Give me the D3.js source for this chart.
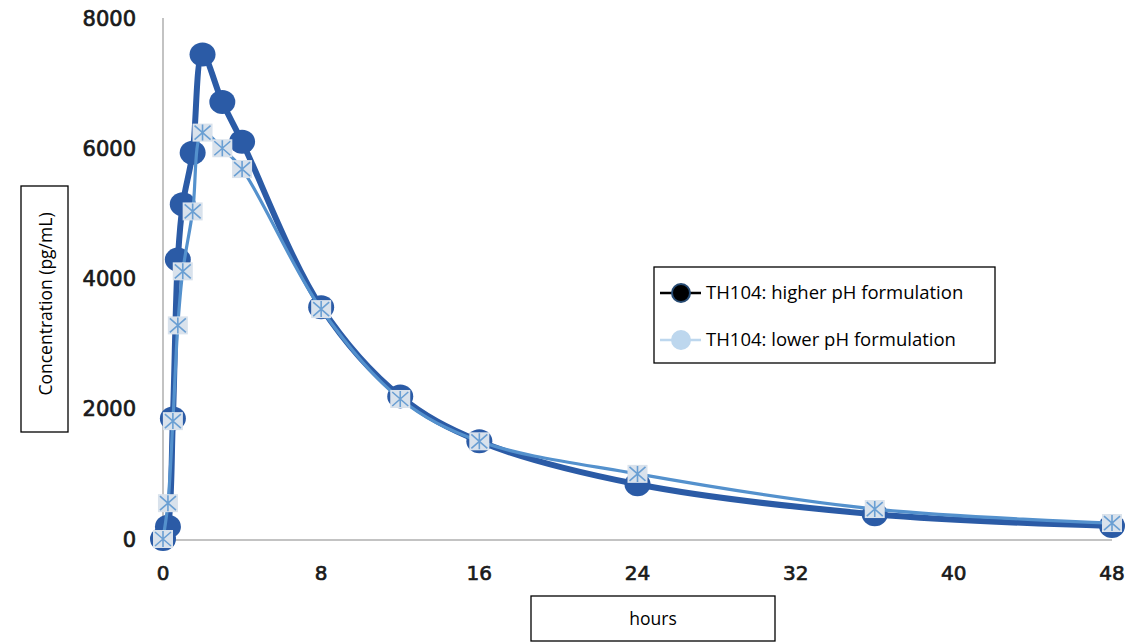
<!DOCTYPE html>
<html>
<head>
<meta charset="utf-8">
<script src="https://cdn.jsdelivr.net/npm/d3@7"></script>
<style>
  body { margin: 0; background: #fff; }
  svg { display: block; }
</style>
</head>
<body>
<div id="chart"></div>
<script>
// sampling times (hours) and concentrations (pg/mL)
let hours = [0, 0.25, 0.5, 0.75, 1, 1.5, 2, 3, 4, 8, 12, 16, 24, 36, 48];
let higherPH = [0, 190, 1850, 4290, 5140, 5930, 7440, 6710, 6100, 3560, 2190, 1500, 840, 380, 200];
let lowerPH = [0, 550, 1810, 3280, 4110, 5030, 6240, 6000, 5680, 3530, 2150, 1500, 1000, 460, 245];
let xTicks = [0, 8, 16, 24, 32, 40, 48];
let yTicks = [0, 2000, 4000, 6000, 8000];
let seriesNames = ["TH104: higher pH formulation", "TH104: lower pH formulation"];

let width = 1142, height = 643;

let svg = d3.select("#chart").append("svg")
    .attr("width", width)
    .attr("height", height);

let x = d3.scaleLinear().domain([0, 48]).range([163, 1112]);
let y = d3.scaleLinear().domain([0, 8000]).range([539, 18]);

// axis lines (no tick marks)
svg.append("line")
    .attr("x1", x(0)).attr("x2", x(0))
    .attr("y1", y(8000)).attr("y2", y(0) + 1)
    .style("stroke", "#c3c3c3").style("stroke-width", 2);
svg.append("line")
    .attr("x1", x(0)).attr("x2", x(48))
    .attr("y1", y(0) + 1).attr("y2", y(0) + 1)
    .style("stroke", "#c3c3c3").style("stroke-width", 2);

// tick labels
svg.selectAll(".ytick")
    .data(yTicks)
    .enter().append("text")
    .attr("class", "ytick")
    .attr("x", 136)
    .attr("y", d => y(d))
    .attr("dy", "0.36em")
    .attr("text-anchor", "end")
    .style("font-family", "DejaVu Sans")
    .style("font-size", "21px")
    .style("fill", "#1a1a1a")
    .style("stroke", "#1a1a1a")
    .style("stroke-width", 0.7)
    .text(d => d);

svg.selectAll(".xtick")
    .data(xTicks)
    .enter().append("text")
    .attr("class", "xtick")
    .attr("x", d => x(d))
    .attr("y", 580)
    .attr("text-anchor", "middle")
    .style("font-family", "DejaVu Sans")
    .style("font-size", "20px")
    .style("fill", "#1a1a1a")
    .style("stroke", "#1a1a1a")
    .style("stroke-width", 0.7)
    .text(d => d);

// axis titles in boxes
svg.append("rect")
    .attr("x", 21).attr("y", 186).attr("width", 47).attr("height", 246)
    .style("fill", "#fff").style("stroke", "#000").style("stroke-width", 1.3);
svg.append("text")
    .attr("transform", "translate(52,304) rotate(-90)")
    .attr("text-anchor", "middle")
    .style("font-family", "Open Sans")
    .style("font-size", "17.5px")
    .text("Concentration (pg/mL)");

svg.append("rect")
    .attr("x", 531).attr("y", 596).attr("width", 244).attr("height", 45)
    .style("fill", "#fff").style("stroke", "#000").style("stroke-width", 1.3);
svg.append("text")
    .attr("x", 653).attr("y", 625)
    .attr("text-anchor", "middle")
    .style("font-family", "Open Sans")
    .style("font-size", "17.5px")
    .text("hours");

// smoothed lines
let line = d3.line()
    .x(d => x(d[0]))
    .y(d => y(d[1]))
    .curve(d3.curveCatmullRom.alpha(0.5));

let highData = hours.map((h, i) => [h, higherPH[i]]);
let lowData = hours.map((h, i) => [h, lowerPH[i]]);

svg.append("path")
    .datum(highData)
    .attr("d", line)
    .style("fill", "none")
    .style("stroke", "#2b5ba6")
    .style("stroke-width", 6)
    .style("stroke-linejoin", "round");

svg.selectAll(".dot")
    .data(highData)
    .enter().append("ellipse")
    .attr("class", "dot")
    .attr("cx", d => x(d[0]))
    .attr("cy", d => y(d[1]))
    .attr("rx", 13)
    .attr("ry", 12)
    .style("fill", "#2b5ba6");

svg.append("path")
    .datum(lowData)
    .attr("d", line)
    .style("fill", "none")
    .style("stroke", "#5491cd")
    .style("stroke-width", 3.2)
    .style("stroke-linejoin", "round");

let marks = svg.selectAll(".mark")
    .data(lowData)
    .enter().append("g")
    .attr("class", "mark")
    .attr("transform", d => "translate(" + x(d[0]) + "," + y(d[1]) + ")");

marks.append("rect")
    .attr("x", -10).attr("y", -9).attr("width", 20).attr("height", 18)
    .style("fill", "#d9e2ec");
marks.append("path")
    .attr("d", "M-8,-7L8,7M-8,7L8,-7M0,-8L0,8")
    .style("stroke", "#6a9fd3")
    .style("stroke-width", 1.6);

// legend
svg.append("rect")
    .attr("x", 654).attr("y", 267).attr("width", 341).attr("height", 96)
    .style("fill", "#fff").style("stroke", "#000").style("stroke-width", 1.3);

let legendY = [293, 340];
let legendLine = ["#000", "#bdd7ee"];
let legendFill = ["#000", "#bdd7ee"];
let legendEdge = ["#274b73", "#bdd7ee"];

let legend = svg.selectAll(".legend")
    .data(seriesNames)
    .enter().append("g")
    .attr("class", "legend")
    .attr("transform", (d, i) => "translate(0," + legendY[i] + ")");

legend.append("line")
    .attr("x1", 660).attr("x2", 701)
    .style("stroke", (d, i) => legendLine[i])
    .style("stroke-width", 2.5);
legend.append("circle")
    .attr("cx", 681).attr("r", 9)
    .style("fill", (d, i) => legendFill[i])
    .style("stroke", (d, i) => legendEdge[i])
    .style("stroke-width", 2);
legend.append("text")
    .attr("x", 706)
    .attr("dy", "0.35em")
    .style("font-family", "Open Sans")
    .style("font-size", "18.5px")
    .text(d => d);
</script>
</body>
</html>
